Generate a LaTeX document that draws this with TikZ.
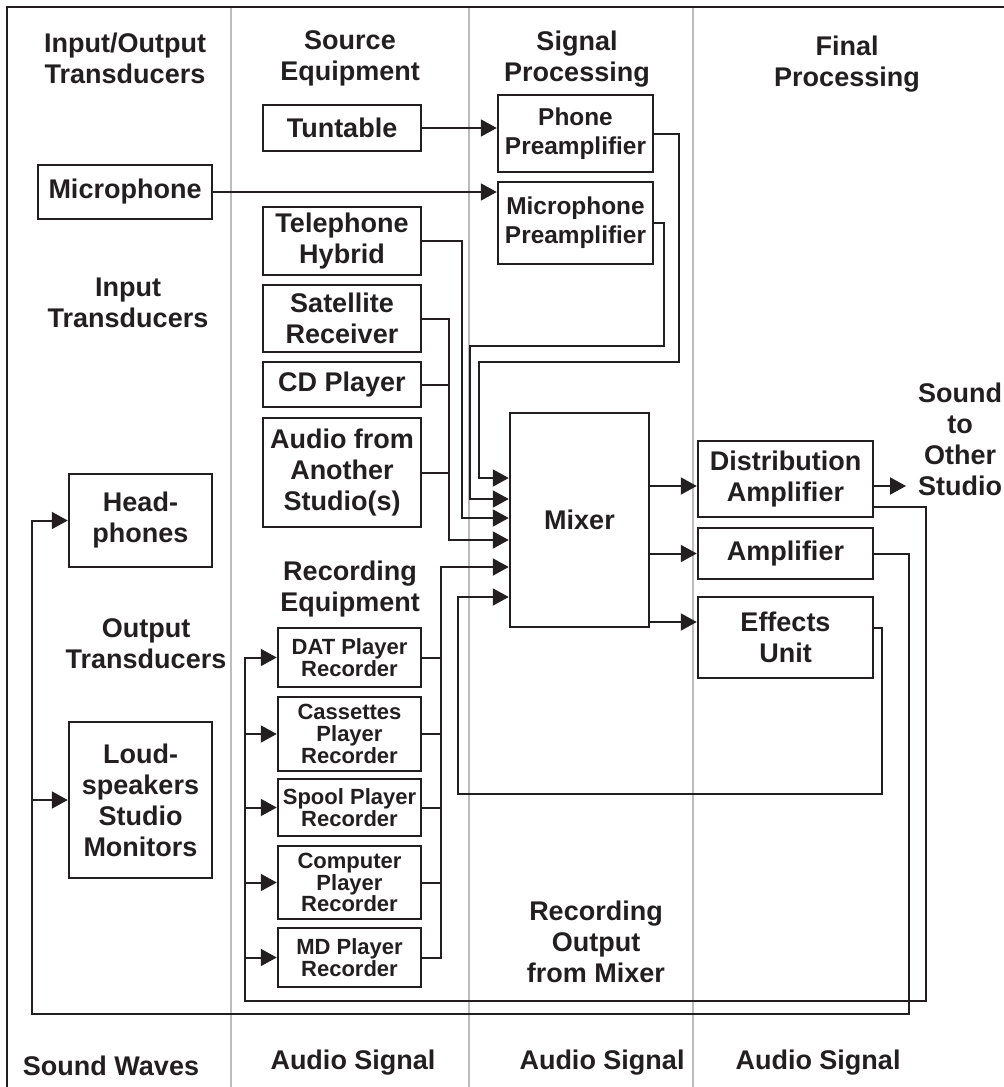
\documentclass[tikz,border=0pt]{standalone}
\usepackage{fontspec}
\setmainfont{Liberation Sans}
\usetikzlibrary{arrows.meta}
\definecolor{ink}{HTML}{231F20}
\definecolor{rulegray}{HTML}{BDBDBD}

% \mkbox[style]{name}{x1}{y1}{x2}{y2}{text}: a framed block given by its corners
\newcommand\mkbox[7][]{%
  \node[blockbox,#1,minimum width={(#5-#3)*0.5pt},minimum height={(#6-#4)*0.5pt}]
    (#2) at ({(#3+#5)/2},{(#4+#6)/2}) {#7};}

\begin{document}
\begin{tikzpicture}[x=0.5pt,y=-0.5pt,
  blockbox/.style={draw=ink,line width=1.25pt,inner sep=0pt,align=center,text=ink,
    font=\bfseries\fontsize{13.5}{15.5}\selectfont},
  smallbox/.style={font=\bfseries\fontsize{11}{10.8}\selectfont},
  prebox/.style={font=\bfseries\fontsize{12.2}{14.5}\selectfont},
  heading/.style={align=center,inner sep=0pt,text=ink,
    font=\bfseries\fontsize{13.5}{15.5}\selectfont},
  wire/.style={draw=ink,line width=1pt},
  feed/.style={wire,-{Triangle[length=8pt,width=8.5pt]}},
  divider/.style={draw=rulegray,line width=0.9pt},
]
\useasboundingbox (0,0) rectangle (1004,1087);
\clip (0,0) rectangle (1004,1087);

% column dividers and frame
\draw[divider] (231,7) -- (231,1090);
\draw[divider] (469,7) -- (469,1090);
\draw[divider] (693,7) -- (693,1090);
\draw[draw=ink,line width=1.3pt] (7,1095) -- (7,7) -- (1010,7);

% column headings
\node[heading] (hIO)  at (125,58) {Input/Output\\Transducers};
\node[heading] (hSrc) at (350,58) {Source\\Equipment};
\node[heading] (hSig) at (577,59) {Signal\\Processing};
\node[heading] (hFin) at (847,64) {Final\\Processing};
\node[heading] (hIn)  at (128,303) {Input\\Transducers};
\node[heading] (hOut) at (146,644) {Output\\Transducers};
\node[heading] (hRec) at (350,589) {Recording\\Equipment};
\node[heading] (hMixOut) at (596,942) {Recording\\Output\\from Mixer};
\node[heading] (snd)  at (960,439) {Sound\\to\\Other\\Studio};

% bottom row
\node[heading,anchor=base] (bSW) at (111,1075) {Sound Waves};
\node[heading,anchor=base] (bA1) at (353,1069) {Audio Signal};
\node[heading,anchor=base] (bA2) at (602,1069) {Audio Signal};
\node[heading,anchor=base] (bA3) at (818,1069) {Audio Signal};

% blocks
\mkbox{tunt}{263}{105}{421}{151}{Tuntable}
\mkbox{mic}{38}{165}{212}{219}{Microphone}
\mkbox{tel}{263}{207}{421}{275}{Telephone\\Hybrid}
\mkbox{sat}{263}{285}{421}{352}{Satellite\\Receiver}
\mkbox{cd}{263}{362}{421}{407}{CD Player}
\mkbox{aud}{263}{418}{421}{527}{Audio from\\Another\\Studio(s)}
\mkbox[prebox]{phpre}{498}{95}{653}{172}{Phone\\Preamplifier}
\mkbox[prebox]{micpre}{498}{182}{653}{264}{Microphone\\Preamplifier}
\mkbox{mixer}{510}{413}{649}{627}{Mixer}
\mkbox{dist}{698}{441}{873}{517}{Distribution\\Amplifier}
\mkbox{amp}{698}{528}{873}{579}{Amplifier}
\mkbox{fx}{698}{597}{873}{678}{Effects\\Unit}
\mkbox{hp}{69}{474}{212}{567}{Head-\\phones}
\mkbox{ls}{69}{722}{212}{878}{Loud-\\speakers\\Studio\\Monitors}
\mkbox[smallbox]{dat}{278}{628}{421}{687}{DAT Player\\Recorder}
\mkbox[smallbox]{cas}{278}{697}{421}{771}{Cassettes\\Player\\Recorder}
\mkbox[smallbox]{spool}{278}{779}{421}{836}{Spool Player\\Recorder}
\mkbox[smallbox]{comp}{278}{846}{421}{919}{Computer\\Player\\Recorder}
\mkbox[smallbox]{md}{278}{928}{421}{987}{MD Player\\Recorder}

% bus coordinates
\coordinate (busSrc) at (449,540);
\coordinate (busRec) at (441,567);
\coordinate (busIn)  at (245,0);
\coordinate (busMon) at (32,0);
\coordinate (sndIn)  at (906,486);

% sources into the preamplifiers
\draw[feed] (tunt.east) -- (tunt.east -| phpre.west);
\draw[feed] (mic.east) -- (mic.east -| micpre.west);

% preamplifiers into the mixer
\draw[feed] (phpre.east) -| (679,362) -| (479,478) -- (mixer.west |- 0,478);
\draw[feed] (micpre.east) -| (664,346) -| (470,499) -- (mixer.west |- 0,499);

% line sources into the mixer
\draw[feed] (tel.east) -| (462,518) -- (mixer.west |- 0,518);
\draw[feed] (sat.east) -| (busSrc) -- (mixer.west |- busSrc);
\draw[wire] (cd.east) -- (cd.east -| busSrc);
\draw[wire] (aud.east) -- (aud.east -| busSrc);

% recorders into the mixer
\draw[feed] (md.east) -| (busRec) -- (mixer.west |- busRec);
\draw[wire] (dat.east) -- (dat.east -| busRec);
\draw[wire] (cas.east) -- (cas.east -| busRec);
\draw[wire] (spool.east) -- (spool.east -| busRec);
\draw[wire] (comp.east) -- (comp.east -| busRec);

% effects return
\draw[feed] (fx.east |- 0,628) -| (882,794) -| (458,597) -- (mixer.west |- 0,597);

% mixer outputs
\draw[feed] (mixer.east |- 0,486) -- (dist.west |- 0,486);
\draw[feed] (mixer.east |- amp.west) -- (amp.west);
\draw[feed] (mixer.east |- 0,622) -- (fx.west |- 0,622);
\draw[feed] (dist.east |- sndIn) -- (sndIn);

% distribution amplifier to the recorders
\draw[feed] (dist.east |- 0,507) -| (926,1001) -| (busIn |- dat.west) -- (dat.west);
\draw[feed] (busIn |- cas.west) -- (cas.west);
\draw[feed] (busIn |- spool.west) -- (spool.west);
\draw[feed] (busIn |- comp.west) -- (comp.west);
\draw[feed] (busIn |- md.west) -- (md.west);

% amplifier to the monitors
\draw[feed] (amp.east) -| (909,1014) -| (busMon |- hp.west) -- (hp.west);
\draw[feed] (busMon |- ls.west) -- (ls.west);
\end{tikzpicture}
\end{document}
